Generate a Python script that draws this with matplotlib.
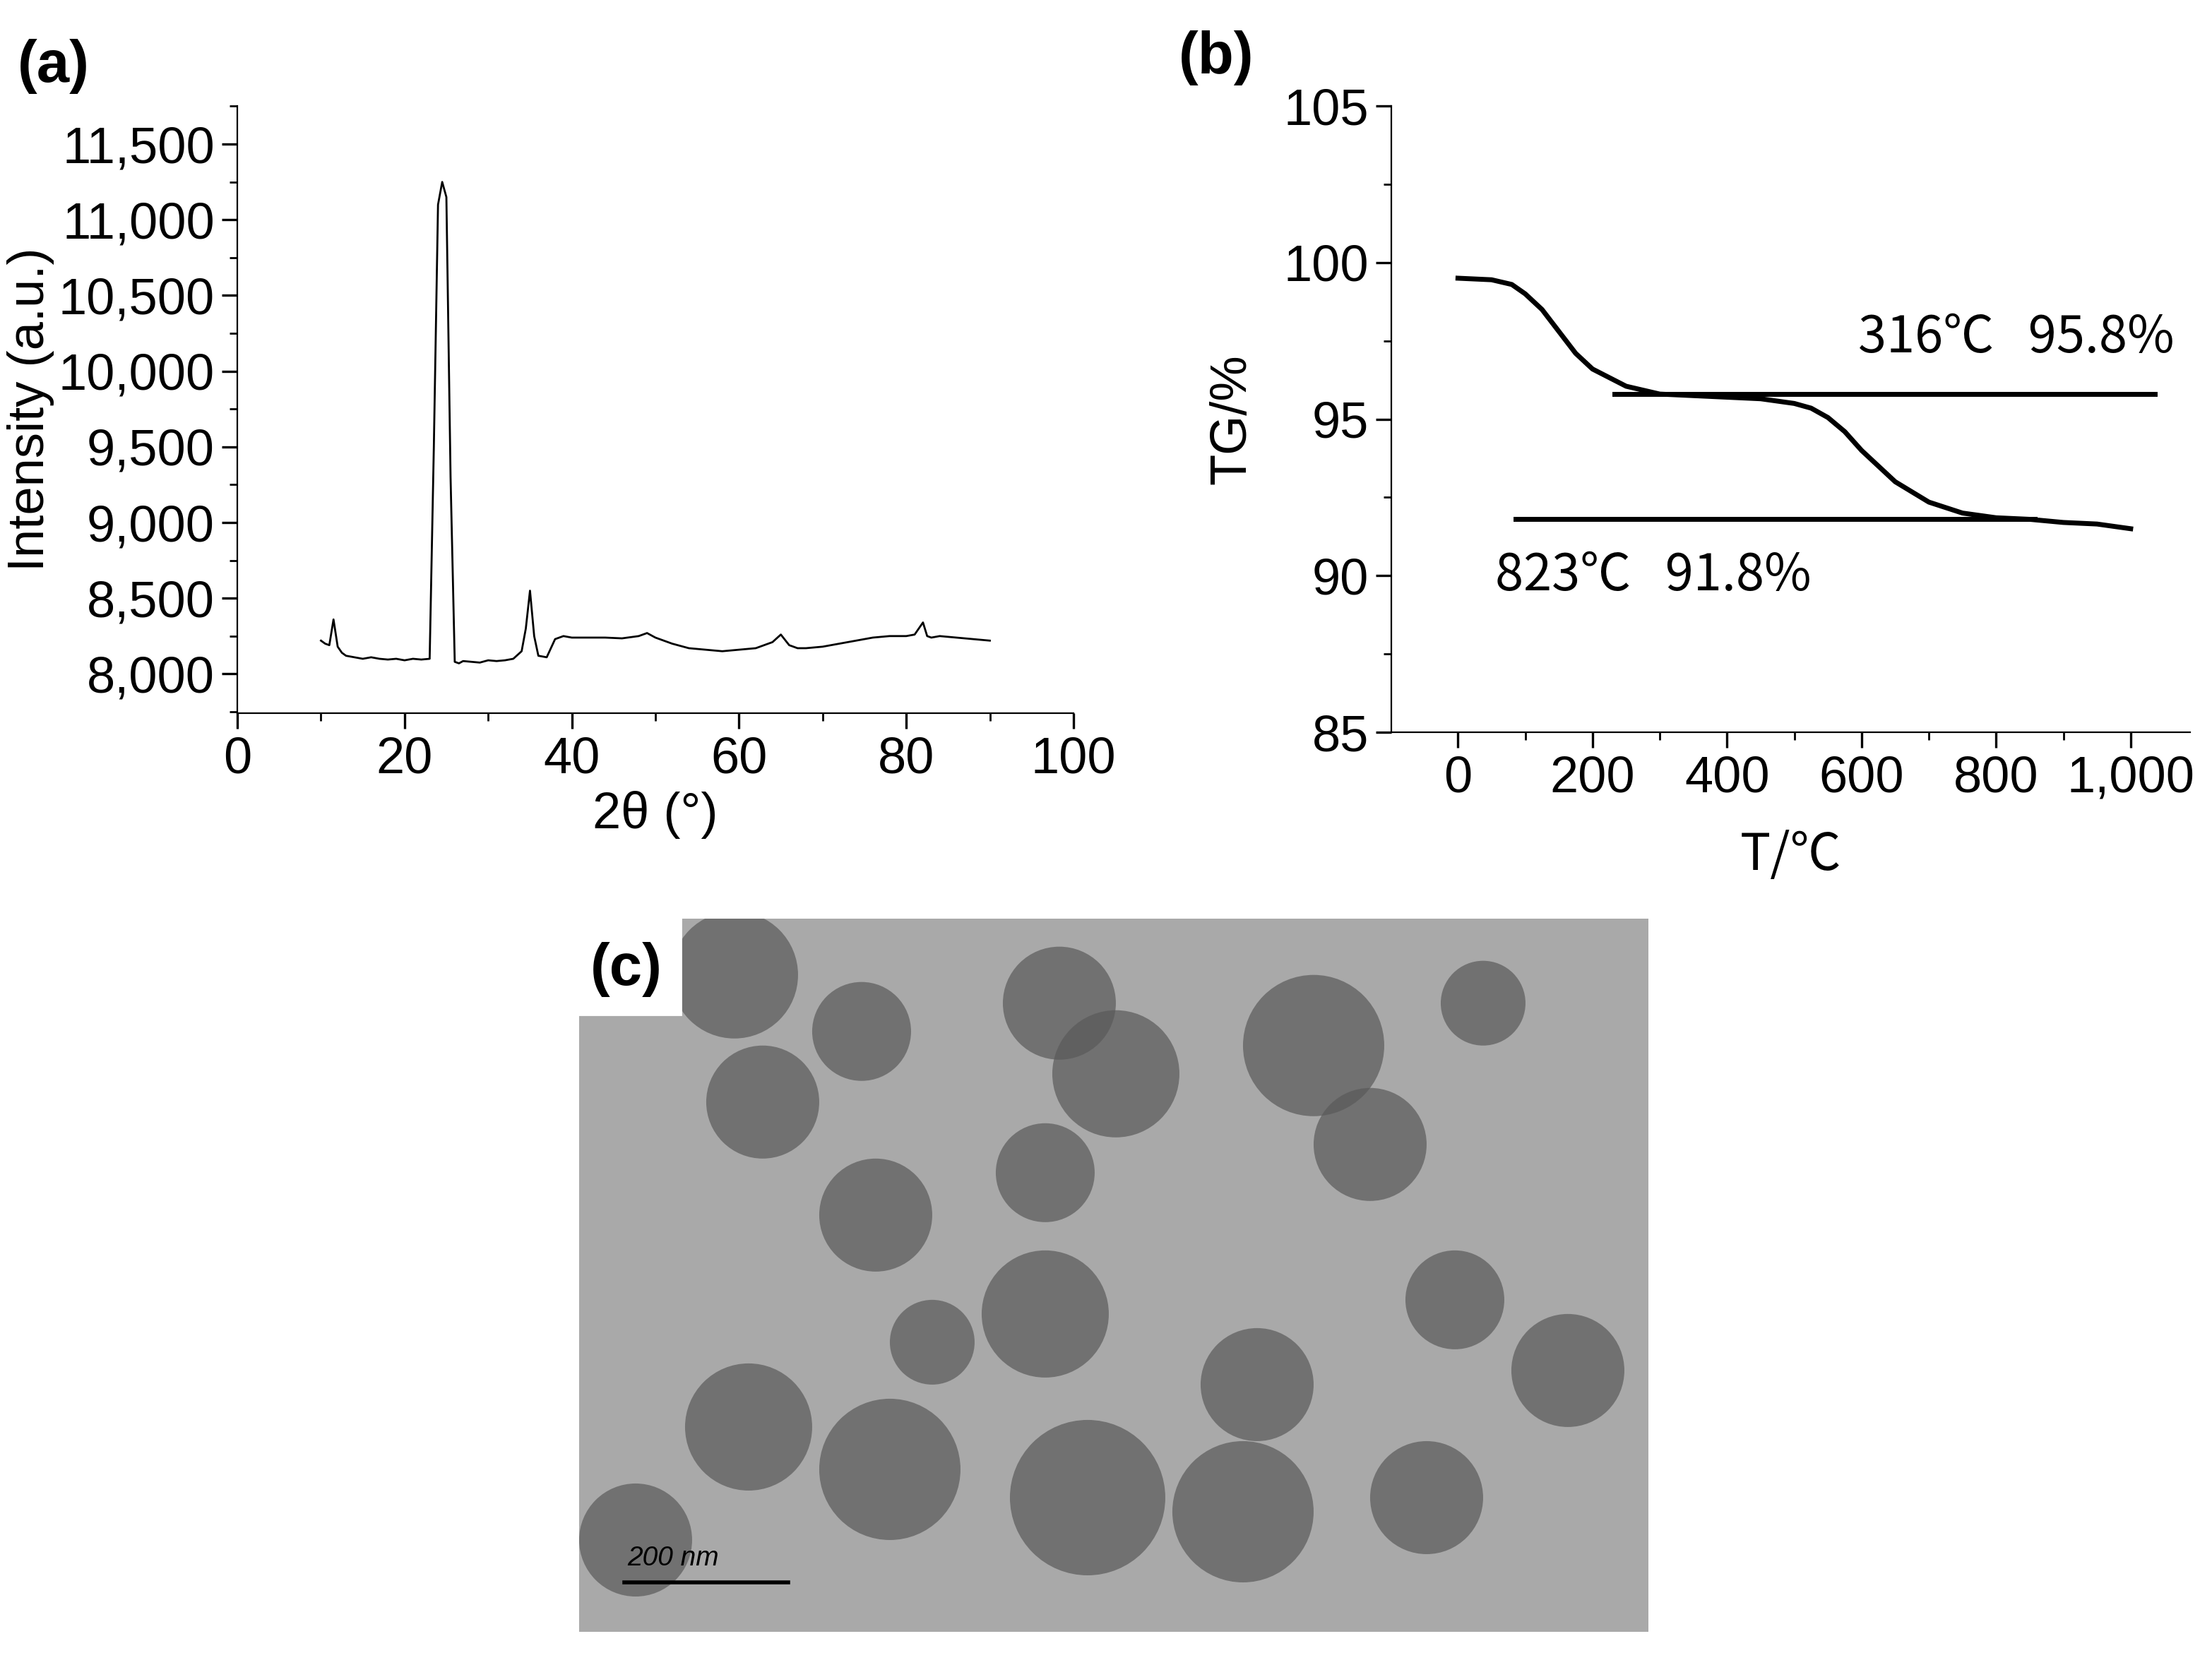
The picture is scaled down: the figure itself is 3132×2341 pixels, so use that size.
import matplotlib
matplotlib.use("Agg")
import matplotlib.pyplot as plt
from matplotlib.patches import Circle, Rectangle
from matplotlib.ticker import FuncFormatter, MultipleLocator

plt.rcParams['font.family'] = ['Liberation Sans', 'DejaVu Sans']

# XRD data
xrd_x = [10, 10.5, 11, 11.5, 12, 12.5, 13, 14, 15, 16, 17, 18, 19, 20, 21, 22, 23, 23.5, 24, 24.5, 25, 25.5, 26, 26.5, 27, 28, 29, 30, 31, 32, 33, 34, 34.5, 35, 35.5, 36, 37, 38, 39, 40, 42, 44, 46, 48, 49, 50, 52, 54, 56, 58, 60, 62, 63, 64, 65, 66, 67, 68, 70, 72, 74, 76, 78, 80, 81, 82, 82.5, 83, 84, 86, 88, 90]
xrd_y = [8220, 8200, 8190, 8360, 8180, 8140, 8120, 8110, 8100, 8110, 8100, 8095, 8100, 8090, 8100, 8095, 8100, 9500, 11100, 11250, 11150, 9300, 8080, 8070, 8085, 8080, 8075, 8090, 8085, 8090, 8100, 8150, 8300, 8550, 8250, 8120, 8110, 8230, 8250, 8240, 8240, 8240, 8235, 8250, 8270, 8240, 8200, 8170, 8160, 8150, 8160, 8170, 8190, 8210, 8260, 8190, 8170, 8170, 8180, 8200, 8220, 8240, 8250, 8250, 8260, 8340, 8250, 8240, 8250, 8240, 8230, 8220]

# TG data
tg_x = [0, 50, 80, 100, 125, 150, 175, 200, 250, 300, 350, 400, 450, 500, 525, 550, 575, 600, 625, 650, 700, 750, 800, 850, 900, 950, 1000]
tg_y = [99.5, 99.45, 99.3, 99.0, 98.5, 97.8, 97.1, 96.6, 96.05, 95.8, 95.75, 95.7, 95.65, 95.5, 95.35, 95.05, 94.6, 94.0, 93.5, 93.0, 92.35, 92.0, 91.85, 91.8, 91.7, 91.65, 91.5]

fig = plt.figure(figsize=(15.66, 11.705), dpi=200)

fmt = FuncFormatter(lambda v, p: f"{int(v):,}")

# (a)
ax = fig.add_axes([0.1073, 0.5684, 0.378, 0.3675])
ax.plot(xrd_x, xrd_y, color='black', lw=1)
ax.set_xlim(0, 100)
ax.set_ylim(7739, 11752)
ax.set_yticks([8000, 8500, 9000, 9500, 10000, 10500, 11000, 11500])
ax.yaxis.set_major_formatter(fmt)
ax.set_xticks([0, 20, 40, 60, 80, 100])
ax.xaxis.set_minor_locator(MultipleLocator(10))
ax.yaxis.set_minor_locator(MultipleLocator(250))
for s in ['top', 'right']:
    ax.spines[s].set_visible(False)
ax.tick_params(direction='out', labelsize=26, length=8, width=1.2)
ax.tick_params(which='minor', direction='out', length=4, width=1)
ax.set_xlabel('2θ (°)', fontsize=26)
ax.set_ylabel('Intensity (a.u.)', fontsize=26, labelpad=2)
fig.text(0.008, 0.96, '(a)', fontsize=30, fontweight='bold', va='center')

# (b)
bx = fig.add_axes([0.629, 0.557, 0.361, 0.3789])
bx.plot(tg_x, tg_y, color='black', lw=2.5)
bx.plot([233, 1036], [95.8, 95.8], color='black', lw=2.5)
bx.plot([86, 857], [91.8, 91.8], color='black', lw=2.5)
bx.text(595, 97.6, '316℃   95.8%', fontsize=26, family=['Noto Sans CJK SC', 'DejaVu Sans'], va='center')
bx.text(55, 90.0, '823℃   91.8%', fontsize=26, family=['Noto Sans CJK SC', 'DejaVu Sans'], va='center')
bx.set_xlim(-99, 1088)
bx.set_ylim(85, 105)
bx.set_xticks([0, 200, 400, 600, 800, 1000])
bx.xaxis.set_major_formatter(fmt)
bx.set_yticks([85, 90, 95, 100, 105])
bx.xaxis.set_minor_locator(MultipleLocator(100))
bx.yaxis.set_minor_locator(MultipleLocator(2.5))
for s in ['top', 'right']:
    bx.spines[s].set_visible(False)
bx.tick_params(direction='out', labelsize=26, length=8, width=1.2)
bx.tick_params(which='minor', direction='out', length=4, width=1)
bx.set_xlabel('T/℃', fontsize=26, family=['Noto Sans CJK SC', 'DejaVu Sans'], labelpad=14)
bx.set_ylabel('TG/%', fontsize=26, labelpad=14)
fig.text(0.533, 0.965, '(b)', fontsize=30, fontweight='bold', va='center')

# (c) micrograph placeholder
cx = fig.add_axes([0.2618, 0.0128, 0.4834, 0.4316])
cx.set_xlim(0, 757); cx.set_ylim(505, 0)
cx.add_patch(Rectangle((0, 0), 757, 505, color='#a9a9a9', zorder=0))
blobs = [(110, 40, 45), (130, 130, 40), (200, 80, 35), (210, 210, 40), (340, 60, 40), (380, 110, 45), (330, 180, 35),
         (520, 90, 50), (560, 160, 40), (620, 270, 35), (330, 280, 45), (360, 410, 55), (220, 390, 50), (120, 360, 45),
         (40, 440, 40), (480, 330, 40), (470, 420, 50), (600, 410, 40), (700, 320, 40), (250, 300, 30), (640, 60, 30)]
for bxp, byp, r in blobs:
    cx.add_patch(Circle((bxp, byp), r, color='#5a5a5a', alpha=0.7, lw=0))
cx.add_patch(Rectangle((0, 0), 72, 68, color='white', zorder=3))
cx.text(8, 36, '(c)', fontsize=30, fontweight='bold', va='center', zorder=4)
cx.plot([32, 148], [470, 470], color='black', lw=2)
cx.text(34, 462, '200 nm', fontsize=14, style='italic', va='bottom')
cx.axis('off')

fig.savefig('out.png', dpi=200)
